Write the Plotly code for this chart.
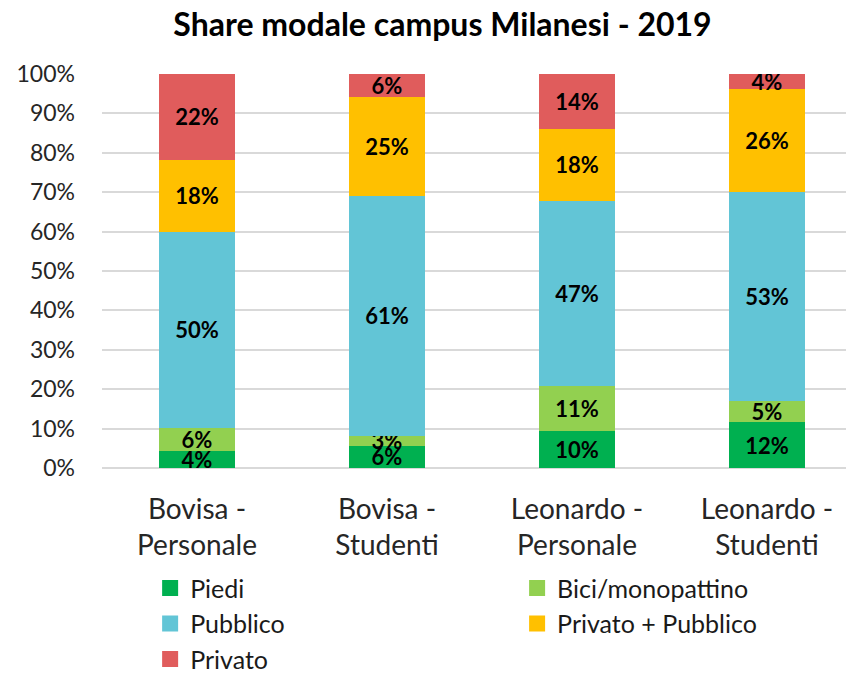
import plotly.graph_objects as go

categories = ["Bovisa -<br>Personale", "Bovisa -<br>Studenti", "Leonardo -<br>Personale", "Leonardo -<br>Studenti"]
series_names = ["Piedi", "Bici/monopattino", "Pubblico", "Privato + Pubblico", "Privato"]
piedi = [4.3, 5.6, 9.5, 11.6]
bici = [5.8, 2.6, 11.3, 5.4]
pubblico = [49.9, 60.9, 47.0, 53.1]
privato_pubblico = [18.2, 25.1, 18.3, 26.0]
privato = [21.8, 5.8, 13.9, 3.9]
colors = ["#00B050", "#92D050", "#62C5D6", "#FFC000", "#E05C5C"]
y_ticks = [0, 10, 20, 30, 40, 50, 60, 70, 80, 90, 100]

FONT = "Lato"
fig = go.Figure()
for name, vals, col in zip(series_names, [piedi, bici, pubblico, privato_pubblico, privato], colors):
    fig.add_trace(go.Bar(
        name=name, x=categories, y=vals, marker=dict(color=col, line=dict(width=0)),
        width=0.4, text=[f"{int(v + 0.5)}%" for v in vals], textposition="inside",
        insidetextanchor="middle", textangle=0,
        textfont=dict(family=FONT, size=22, color="black", weight="bold"),
        constraintext="none", showlegend=False,
    ))
# legend entries (square swatches)
for name, col in zip(series_names, colors):
    fig.add_trace(go.Scatter(
        name=name, x=[None], y=[None], mode="markers",
        marker=dict(symbol="square", size=16, color=col), showlegend=True,
    ))

fig.update_layout(
    barmode="stack",
    width=846, height=666,
    margin=dict(l=94, r=0, t=66, b=206, autoexpand=False),
    paper_bgcolor="white", plot_bgcolor="white",
    font=dict(family=FONT, color="#1a1a1a"),
    title=dict(text="<b>Share modale campus Milanesi - 2019</b>", x=0.5136, xanchor="center",
               y=0.975, yanchor="middle", font=dict(family=FONT, size=32, color="black")),
    xaxis=dict(range=[-0.5, 3.458], tickfont=dict(size=28, color="#262626"), showline=False,
               ticks="", showgrid=False, ticklabelstandoff=22),
    yaxis=dict(range=[0, 100], tickvals=y_ticks, ticktext=[f"{t}%" for t in y_ticks],
               tickfont=dict(size=23, color="#262626"), showgrid=True, gridcolor="#D9D9D9",
               gridwidth=2, zeroline=True, zerolinecolor="#D9D9D9", zerolinewidth=2,
               ticklabelstandoff=26),
    legend=dict(orientation="h", x=0.064, xanchor="left", y=-0.247, yanchor="top",
                entrywidthmode="fraction", entrywidth=0.488,
                font=dict(size=25, color="#1a1a1a"), traceorder="normal",
                itemclick=False),
    uniformtext=dict(mode=False),
)
fig.write_html("out.html")
